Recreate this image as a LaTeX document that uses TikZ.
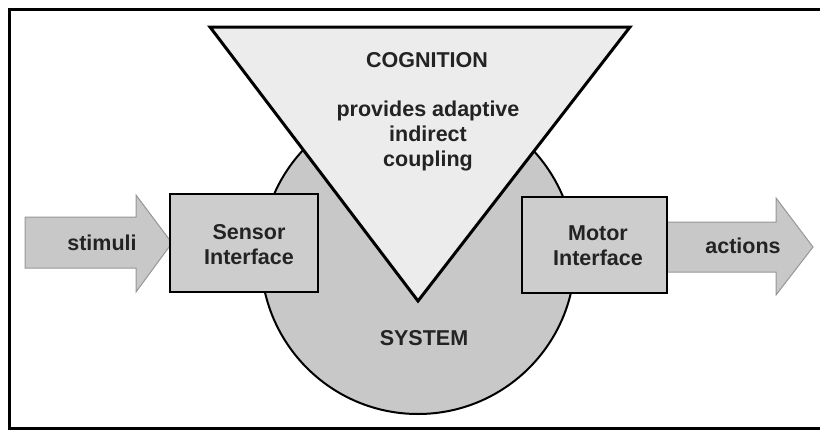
\documentclass[tikz,border=0pt]{standalone}
\usepackage{fontspec}
\setmainfont{Liberation Sans}
\definecolor{trifill}{RGB}{236,236,236}
\definecolor{sysfill}{RGB}{200,200,200}
\definecolor{boxfill}{RGB}{205,205,205}
\definecolor{arrfill}{RGB}{200,200,200}
\definecolor{arredge}{RGB}{150,150,150}
\definecolor{txt}{RGB}{35,35,35}
\begin{document}
\begin{tikzpicture}[x=1pt,y=-1pt,
  lbl/.style={font=\fontsize{21.5}{25}\selectfont\bfseries, text=txt, align=center, inner sep=0pt},
  bigarrow/.style={fill=arrfill, draw=arredge, line width=1pt, line join=miter},
  iface/.style={fill=boxfill, draw=black, line width=2.5pt},
  frameline/.style={draw=black, line width=3pt, line join=miter}]
\useasboundingbox (0,0) rectangle (820,431);
% frame (right edge lies outside the picture)
\draw[frameline] (830,9) -- (9,9) -- (9,428) -- (830,428);
% arrows
\draw[bigarrow] (25,217) -- (136,217) -- (136,195) -- (172,243) -- (136,292) -- (136,268) -- (25,268) -- cycle;
\draw[bigarrow] (660,222) -- (776,222) -- (776,198) -- (813,247) -- (776,295) -- (776,272) -- (660,272) -- cycle;
% system circle
\draw[fill=sysfill, draw=black, line width=2pt] (418,257) circle (157);
% cognition triangle
\draw[fill=trifill, draw=black, line width=3pt, line join=miter] (210,27) -- (630,27) -- (418,301) -- cycle;
% interface boxes
\draw[iface] (170,194) rectangle (318,292);
\draw[iface] (522,197) rectangle (667,293);
% texts
\node[lbl] (cog) at (427,60) {COGNITION};
\node[lbl] (prov) at (428,136) {provides adaptive\\indirect\\coupling};
\node[lbl] (sys) at (424,338) {SYSTEM};
\node[lbl] (sens) at (249,245) {Sensor\\Interface};
\node[lbl] (mot) at (598,246) {Motor\\Interface};
\node[lbl] (stim) at (102,243) {stimuli};
\node[lbl] (act) at (743,246) {actions};
\end{tikzpicture}
\end{document}
